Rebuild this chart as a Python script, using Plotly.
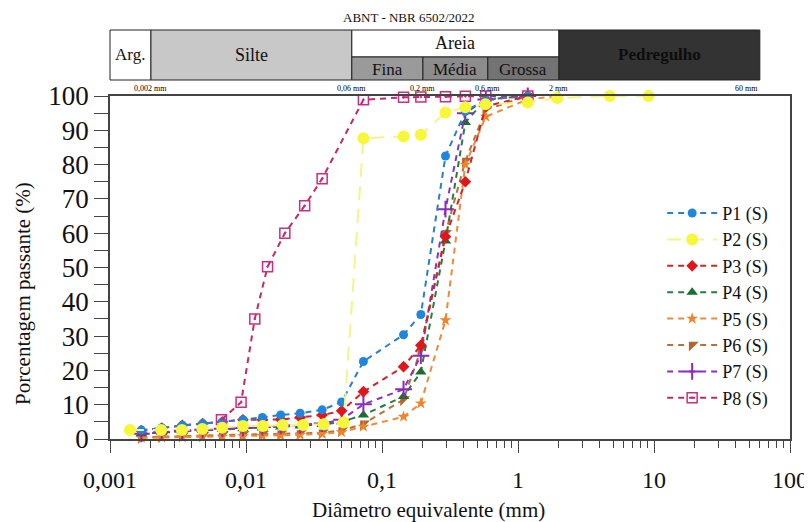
import math
import plotly.graph_objects as go

# ---------------- data ----------------
series_names = ["P1 (S)", "P2 (S)", "P3 (S)", "P4 (S)", "P5 (S)", "P6 (S)", "P7 (S)", "P8 (S)"]

d_fine = [0.0017, 0.0024, 0.0034, 0.0048, 0.0067, 0.0095, 0.0132, 0.0180, 0.0250, 0.0363, 0.0505]
d_sieve = [0.073, 0.144, 0.193, 0.293, 0.41, 0.58, 1.18]

p1_d = d_fine + d_sieve
p1_v = [2.6, 3.3, 4.0, 4.5, 5.0, 5.6, 6.3, 7.0, 7.5, 8.5, 10.8, 22.6, 30.4, 36.3, 82.5, 95.5, 99.0, 100]

p2_d = [0.0014, 0.00238, 0.00338, 0.00478, 0.00668, 0.0095, 0.0133, 0.0186, 0.0263, 0.0372, 0.0522,
        0.073, 0.144, 0.193, 0.293, 0.41, 0.576, 1.18, 1.94, 4.73, 9.1]
p2_v = [2.6, 2.6, 2.6, 2.9, 3.3, 3.8, 3.8, 4.1, 4.1, 4.3, 4.8,
        87.7, 88.2, 88.7, 95.2, 96.7, 97.6, 98.1, 99.4, 100, 100]

p3_d = d_fine + d_sieve
p3_v = [2.4, 3.2, 4.0, 4.5, 5.0, 5.6, 5.6, 5.7, 6.3, 7.0, 8.2, 13.8, 21.1, 27.3, 59.0, 75.0, 97.0, 100]

p4_d = d_fine + d_sieve
p4_v = [1.5, 2.0, 2.3, 2.5, 2.8, 3.0, 3.2, 3.5, 3.8, 4.2, 5.0, 7.0, 12.4, 19.5, 57.7, 92.3, 99.0, 100]

p5_d = d_fine + d_sieve + [2.0]
p5_v = [0.3, 0.4, 0.5, 0.6, 0.7, 0.8, 0.9, 1.0, 1.2, 1.5, 2.0, 3.6, 6.5, 10.4, 34.6, 80.0, 94.0, 99.0, 100]

p6_d = d_fine + d_sieve
p6_v = [0.5, 0.7, 0.9, 1.0, 1.2, 1.3, 1.4, 1.5, 1.6, 1.8, 2.5, 4.4, 11.5, 26.0, 60.0, 81.0, 96.0, 100]

p7_d = d_fine + d_sieve
p7_v = [1.5, 2.0, 2.4, 2.7, 3.0, 3.2, 3.5, 3.8, 4.0, 4.5, 5.6, 10.1, 14.5, 24.3, 67.0, 95.0, 99.0, 100]

p8_d = [0.0066, 0.0092, 0.0116, 0.0144, 0.0193, 0.027, 0.0363,
        0.073, 0.144, 0.193, 0.293, 0.41, 0.58, 1.18]
p8_v = [5.6, 10.7, 35.0, 50.2, 60.0, 68.0, 75.9,
        98.9, 99.6, 99.7, 99.8, 99.9, 100, 100]

x_tick_vals = [0.001, 0.01, 0.1, 1, 10, 100]
x_tick_text = ["0,001", "0,01", "0,1", "1", "10", "100"]
y_tick_vals = [0, 10, 20, 30, 40, 50, 60, 70, 80, 90, 100]

# ABNT classification limits (mm)
limit_vals = [0.002, 0.06, 0.2, 0.6, 2, 60]
limit_text = ["0,002 mm", "0,06 mm", "0,2 mm", "0,6 mm", "2 mm", "60 mm"]

# ---------------- styles ----------------
colors = ["#1f86e0", "#f7f73a", "#e0161c", "#1b6e32", "#f0832a", "#b5652f", "#8a2bc0", "#cc2d7e"]
line_colors = ["#2a7fc8", "#f4f48a", "#d0242a", "#2a7a44", "#ee8a3a", "#b8703a", "#8a34b8", "#c02a6a"]
symbols = ["circle", "circle", "diamond", "triangle-up", "star", "triangle-nw", "cross-thin", "square-open-dot"]
sizes = [9, 12, 9, 10, 9, 11, 12, 10]
dashes = ["6px,5px", "14px,9px", "6px,5px", "6px,5px", "6px,5px", "6px,5px", "6px,5px", "6px,5px"]

all_d = [p1_d, p2_d, p3_d, p4_d, p5_d, p6_d, p7_d, p8_d]
all_v = [p1_v, p2_v, p3_v, p4_v, p5_v, p6_v, p7_v, p8_v]

fig = go.Figure()
draw_order = [5, 4, 3, 6, 2, 0, 7, 1]
for i in draw_order:
    marker = dict(symbol=symbols[i], size=sizes[i], color=colors[i])
    if symbols[i] == "cross-thin":
        marker["line"] = dict(color=colors[i], width=2)
    elif symbols[i] == "square-open-dot":
        marker["line"] = dict(color=colors[i], width=1.5)
    else:
        marker["line"] = dict(width=0)
    fig.add_trace(go.Scatter(
        x=all_d[i], y=all_v[i], name=series_names[i], mode="lines+markers",
        line=dict(color=line_colors[i], width=2, dash=dashes[i]),
        marker=marker, cliponaxis=False, legendrank=i + 1,
    ))

# ---------------- layout ----------------
W, H = 812, 522
OFF = 8  # page body margin
PL, PR, PT, PB = 110, 797, 96, 439  # plot area in screen pixels
ph = PB - PT
XMIN, XMAX = -3, 2


def fx(d):
    return (math.log10(d) - XMIN) / (XMAX - XMIN)


def fy(px):
    return (PB - px) / ph


def fxs(px):
    return (px - PL) / (PR - PL)


top_y, mid_y, bot_y = fy(30), fy(57), fy(80)
shapes = []
annotations = []
FONT = "Liberation Serif"


def box(x0, x1, y0, y1, fill):
    shapes.append(dict(type="rect", xref="paper", yref="paper", x0=x0, x1=x1, y0=y0, y1=y1,
                       fillcolor=fill, line=dict(color="#222222", width=1), layer="above"))


def label(x, y, text, size, color="#111111", bold=False, anchor="center", angle=0):
    annotations.append(dict(xref="paper", yref="paper", x=x, y=y, text=("<b>%s</b>" % text) if bold else text,
                            showarrow=False, xanchor=anchor, yanchor="middle", textangle=angle,
                            font=dict(family=FONT, size=size, color=color)))


x_arg0 = 0.0
x_arg1 = fx(limit_vals[0])
x_sil1 = fx(limit_vals[1])
x_fin1 = fx(limit_vals[2])
x_med1 = fx(limit_vals[3])
x_gro1 = fx(limit_vals[4])
x_ped1 = fx(limit_vals[5])

box(x_arg0, x_arg1, bot_y, top_y, "#ffffff")
box(x_arg1, x_sil1, bot_y, top_y, "#c8c8c8")
box(x_sil1, x_gro1, mid_y, top_y, "#ffffff")
box(x_sil1, x_fin1, bot_y, mid_y, "#9a9a9a")
box(x_fin1, x_med1, bot_y, mid_y, "#8c8c8c")
box(x_med1, x_gro1, bot_y, mid_y, "#737373")
box(x_gro1, x_ped1, bot_y, top_y, "#333333")

label((x_arg0 + x_arg1) / 2, (top_y + bot_y) / 2, "Arg.", 17)
label((x_arg1 + x_sil1) / 2, (top_y + bot_y) / 2, "Silte", 18)
label((x_sil1 + x_gro1) / 2, (top_y + mid_y) / 2, "Areia", 18)
label((x_sil1 + x_fin1) / 2, (mid_y + bot_y) / 2 - 0.003, "Fina", 17)
label((x_fin1 + x_med1) / 2, (mid_y + bot_y) / 2 - 0.003, "Média", 17)
label((x_med1 + x_gro1) / 2, (mid_y + bot_y) / 2 - 0.003, "Grossa", 17)
label((x_gro1 + x_ped1) / 2, (top_y + bot_y) / 2, "Pedregulho", 17, color="#0d0d0d", bold=True)
label(fxs(412), fy(17), "ABNT - NBR 6502/2022", 13)
label(fxs(432), fy(510), "Diâmetro equivalente (mm)", 21)
label(fxs(22), fy(293), "Porcentagem passante (%)", 21, angle=-90)

for v, t in zip(limit_vals, limit_text):
    anchor = "right" if v == limit_vals[-1] else "center"
    label(fx(v), fy(88), t, 8, color="#000000", anchor=anchor)

minor_vals = [m * 10.0 ** e for e in range(-3, 2) for m in range(2, 10)]

fig.update_layout(
    width=W, height=H,
    margin=dict(l=PL - OFF, r=W - (PR - OFF), t=PT - OFF, b=H - (PB - OFF)),
    paper_bgcolor="white", plot_bgcolor="white",
    font=dict(family=FONT, color="#111111"),
    shapes=shapes, annotations=annotations,
    showlegend=True,
    legend=dict(x=0.812, y=0.712, xanchor="left", yanchor="top", font=dict(family=FONT, size=18),
                bgcolor="rgba(0,0,0,0)", tracegroupgap=0, itemwidth=50),
)
fig.update_xaxes(
    type="log", range=[XMIN, XMAX], tickvals=x_tick_vals, ticktext=x_tick_text,
    ticks="outside", ticklen=12, tickcolor="#444444", tickwidth=1,
    minor=dict(tickvals=minor_vals, ticks="outside", ticklen=7, tickcolor="#444444", showgrid=False),
    showline=True, linecolor="#444444", linewidth=1.5, mirror=True,
    showgrid=False, zeroline=False, ticklabelstandoff=6,
    tickfont=dict(family=FONT, size=24, color="#111111"),
)
fig.update_yaxes(
    range=[0, 100], tickvals=y_tick_vals,
    ticks="outside", ticklen=14, tickcolor="#444444", tickwidth=1,
    minor=dict(dtick=5, ticks="outside", ticklen=14, tickcolor="#444444", showgrid=False),
    showline=True, linecolor="#444444", linewidth=1.5, mirror=True,
    showgrid=False, zeroline=False,
    tickfont=dict(family=FONT, size=27, color="#111111"),
)

fig.write_html("out.html")
